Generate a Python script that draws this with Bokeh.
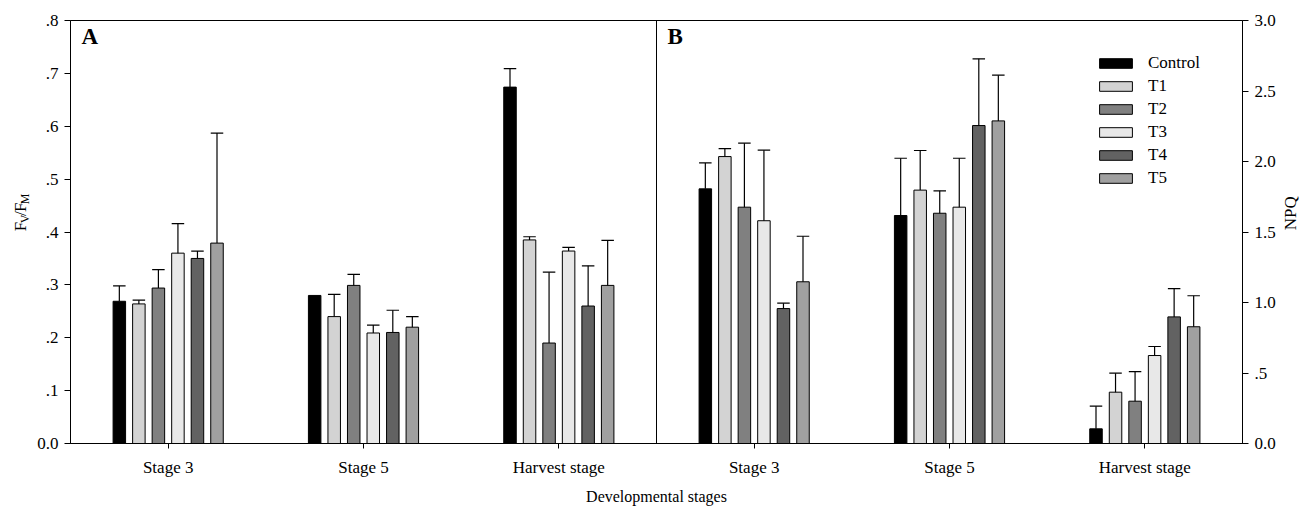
import math
from bokeh.plotting import figure
from bokeh.layouts import row
from bokeh.models import (Range1d, LinearAxis, FixedTicker, Span, Label,
                          Legend, LegendItem, ColumnDataSource)
from bokeh.embed import file_html
from bokeh.resources import INLINE

# ---------------- data ----------------
stages = ["Stage 3", "Stage 5", "Harvest stage"]
treatments = ["Control", "T1", "T2", "T3", "T4", "T5"]
colors = ["#000000", "#d3d3d3", "#808080", "#e8e8e8", "#626262", "#a0a0a0"]

# Panel A: Fv/Fm (mean, upper error)
fv_control = [0.269, 0.280, 0.674]
fv_t1 = [0.264, 0.240, 0.385]
fv_t2 = [0.294, 0.299, 0.190]
fv_t3 = [0.360, 0.209, 0.364]
fv_t4 = [0.350, 0.210, 0.260]
fv_t5 = [0.379, 0.220, 0.299]
fv_control_err = [0.029, 0.0, 0.035]
fv_t1_err = [0.007, 0.042, 0.006]
fv_t2_err = [0.035, 0.021, 0.134]
fv_t3_err = [0.056, 0.015, 0.007]
fv_t4_err = [0.014, 0.042, 0.076]
fv_t5_err = [0.208, 0.020, 0.085]

# Panel B: NPQ (mean, upper error)
npq_control = [1.806, 1.617, 0.104]
npq_t1 = [2.035, 1.797, 0.364]
npq_t2 = [1.676, 1.633, 0.300]
npq_t3 = [1.580, 1.676, 0.624]
npq_t4 = [0.957, 2.255, 0.898]
npq_t5 = [1.147, 2.288, 0.828]
npq_control_err = [0.184, 0.406, 0.161]
npq_t1_err = [0.057, 0.281, 0.135]
npq_t2_err = [0.454, 0.159, 0.210]
npq_t3_err = [0.500, 0.347, 0.064]
npq_t4_err = [0.038, 0.473, 0.200]
npq_t5_err = [0.323, 0.324, 0.220]

fv_ticks = [0, 0.1, 0.2, 0.3, 0.4, 0.5, 0.6, 0.7, 0.8]
fv_tick_labels = ["0.0", ".1", ".2", ".3", ".4", ".5", ".6", ".7", ".8"]
npq_ticks = [0, 0.5, 1, 1.5, 2, 2.5, 3]
npq_tick_labels = ["0.0", ".5", "1.0", "1.5", "2.0", "2.5", "3.0"]

fv_means = [fv_control, fv_t1, fv_t2, fv_t3, fv_t4, fv_t5]
fv_errs = [fv_control_err, fv_t1_err, fv_t2_err, fv_t3_err, fv_t4_err, fv_t5_err]
npq_means = [npq_control, npq_t1, npq_t2, npq_t3, npq_t4, npq_t5]
npq_errs = [npq_control_err, npq_t1_err, npq_t2_err, npq_t3_err, npq_t4_err, npq_t5_err]

# ---------------- layout constants ----------------
W, H = 1308, 507
SIDE_L, SIDE_R = 30, 30
MAIN_W = W - SIDE_L - SIDE_R
FRAME_L, FRAME_R = 70, 1242
BL = FRAME_L - SIDE_L
BR = (SIDE_L + MAIN_W) - FRAME_R
BT, BB = 20, 64
FW = MAIN_W - BL - BR
FH = H - BT - BB
XMAX = 6.0
FV_MAX = 0.8
NPQ_MAX = 3.0
BAR_W = 0.064
PITCH = 0.1
FONT = "Liberation Serif"


def key(t):
    return int(t) if float(t).is_integer() else t


def px_to_x(px):
    return (px - FRAME_L) / FW * XMAX


def py_to_fv(py):
    return (BT + FH - py) / FH * FV_MAX


p = figure(width=MAIN_W, height=H, x_range=Range1d(0, XMAX), y_range=Range1d(0, FV_MAX),
           output_backend="svg", toolbar_location=None,
           min_border_left=BL, min_border_right=BR, min_border_top=BT, min_border_bottom=BB,
           background_fill_color="white", border_fill_color="white")
p.extra_y_ranges = {"npq": Range1d(0, NPQ_MAX)}
p.xgrid.visible = False
p.ygrid.visible = False
p.outline_line_color = "black"
p.outline_line_width = 1

xa = p.xaxis[0]
xa.ticker = FixedTicker(ticks=[i + 0.5 for i in range(6)])
xa.major_label_overrides = {i + 0.5: stages[i % 3] for i in range(6)}
xa.axis_label = "Developmental stages"
xa.axis_label_text_font = FONT
xa.axis_label_text_font_size = "16px"
xa.axis_label_text_font_style = "normal"
xa.axis_label_text_color = "black"
xa.axis_label_standoff = 8

ya = p.yaxis[0]
ya.ticker = FixedTicker(ticks=fv_ticks)
ya.major_label_overrides = {key(t): l for t, l in zip(fv_ticks, fv_tick_labels)}

ra = LinearAxis(y_range_name="npq")
ra.ticker = FixedTicker(ticks=npq_ticks)
ra.major_label_overrides = {key(t): l for t, l in zip(npq_ticks, npq_tick_labels)}
p.add_layout(ra, "right")

for ax in [xa, ya, ra]:
    ax.axis_line_color = "black"
    ax.major_tick_line_color = "black"
    ax.minor_tick_line_color = None
    ax.major_tick_in = 0
    ax.major_tick_out = 6
    ax.major_label_text_font = FONT
    ax.major_label_text_font_size = "17px"
    ax.major_label_text_color = "black"
    ax.major_label_standoff = 6
xa.major_tick_out = 5
xa.major_label_standoff = 9

p.add_layout(Span(location=3, dimension="height", line_color="black", line_width=1))

renderers = []
for j in range(6):
    off = (j - 2.5) * PITCH
    xs_l = [i + 0.5 + off for i in range(3)]
    xs_r = [3 + i + 0.5 + off for i in range(3)]
    src_l = ColumnDataSource(dict(x=xs_l, top=fv_means[j]))
    src_r = ColumnDataSource(dict(x=xs_r, top=npq_means[j]))
    r = p.vbar(x="x", top="top", width=BAR_W, bottom=0, source=src_l,
               fill_color=colors[j], line_color="black", line_width=1)
    p.vbar(x="x", top="top", width=BAR_W, bottom=0, source=src_r, y_range_name="npq",
           fill_color=colors[j], line_color="black", line_width=1)
    renderers.append(r)
    for xs, m, e, rn in [(xs_l, fv_means[j], fv_errs[j], "default"),
                         (xs_r, npq_means[j], npq_errs[j], "npq")]:
        xv = [x for x, ee in zip(xs, e) if ee > 0]
        y0 = [mm for mm, ee in zip(m, e) if ee > 0]
        y1 = [mm + ee for mm, ee in zip(m, e) if ee > 0]
        es = ColumnDataSource(dict(x=xv, y0=y0, y1=y1,
                                   xl=[x - BAR_W / 2 for x in xv], xr=[x + BAR_W / 2 for x in xv]))
        p.segment(x0="x", y0="y0", x1="x", y1="y1", source=es, line_color="black",
                  line_width=1.2, y_range_name=rn)
        p.segment(x0="xl", y0="y1", x1="xr", y1="y1", source=es, line_color="black",
                  line_width=1.2, y_range_name=rn)

legend = Legend(items=[LegendItem(label=t, renderers=[r]) for t, r in zip(treatments, renderers)],
                location=(1025, 255), background_fill_alpha=0, border_line_color=None,
                glyph_width=41, glyph_height=12, label_height=20, spacing=3, padding=0,
                margin=0, label_standoff=12, label_text_font=FONT,
                label_text_font_size="17px", label_text_color="black")
p.add_layout(legend)

p.add_layout(Label(x=px_to_x(81), y=py_to_fv(36), text="A", text_font=FONT,
                   text_font_style="bold", text_font_size="23px", text_baseline="middle",
                   text_color="black"))
p.add_layout(Label(x=px_to_x(667), y=py_to_fv(36), text="B", text_font=FONT,
                   text_font_style="bold", text_font_size="23px", text_baseline="middle",
                   text_color="black"))


def side_fig(w):
    f = figure(width=w, height=H, x_range=Range1d(0, w), y_range=Range1d(0, H),
               output_backend="svg", toolbar_location=None, min_border=0,
               x_axis_location=None, y_axis_location=None,
               background_fill_color="white", border_fill_color="white")
    f.xgrid.visible = False
    f.ygrid.visible = False
    f.outline_line_color = None
    return f


# left title: F_V / F_M (rotated, reading upwards)
left = side_fig(SIDE_L)
pieces = [("F", "17px", 0, 9.45), ("V", "12px", 4, 8.7), ("/", "17px", 0, 4.7),
          ("F", "17px", 0, 9.45), ("M", "12px", 4, 10.7)]
total = sum(pc[3] for pc in pieces)
ystart = 231 + total / 2
for txt, fs, dx, wpx in pieces:
    left.add_layout(Label(x=20 + dx, y=H - ystart, text=txt, text_font=FONT,
                          text_font_size=fs, text_align="left", text_baseline="middle",
                          angle=math.pi / 2, text_color="black"))
    ystart -= wpx

# right title: NPQ
right = side_fig(SIDE_R)
right.add_layout(Label(x=1290 - (W - SIDE_R), y=H - 231, text="NPQ", text_font=FONT,
                       text_font_size="17px", text_align="center", text_baseline="middle",
                       angle=math.pi / 2, text_color="black"))

layout = row(left, p, right, spacing=0)
open("out.html", "w").write(file_html(layout, INLINE))
